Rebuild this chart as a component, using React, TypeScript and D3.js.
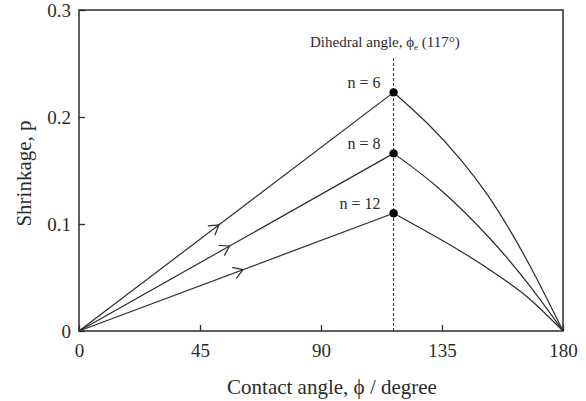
import React, { useEffect, useRef } from 'react';
import * as d3 from 'd3';

const W = 586;
const H = 401;

// axis ticks
const xTicks = [0, 45, 90, 135, 180];
const yTicks = [0, 0.1, 0.2, 0.3];
const yTickLabels = ['0', '0.1', '0.2', '0.3'];

// dihedral angle (degrees)
const dihedral = 117;

// series: n = 6, 8, 12
const seriesNames = ['n = 6', 'n = 8', 'n = 12'];
const peakValues = [0.223, 0.166, 0.11];
// where the arrow heads sit on the rising lines (degrees)
const arrowAngles = [52, 56, 61];

// falling parts, from the peak to 180 degrees
const fallN6: [number, number][] = [[117, 0.223], [130, 0.193], [142, 0.16], [152, 0.127], [161, 0.091], [170, 0.05], [180, 0]];
const fallN8: [number, number][] = [[117, 0.166], [134, 0.133], [153, 0.086], [168, 0.041], [180, 0]];
const fallN12: [number, number][] = [[117, 0.11], [141, 0.076], [157, 0.05], [168, 0.029], [180, 0]];
const fallSeries = [fallN6, fallN8, fallN12];

const FONT = '"Liberation Serif", "DejaVu Serif", serif';
const INK = '#2b2b2b';

const draw = (svgEl: SVGSVGElement) => {
  const svg = d3.select(svgEl);
  svg.selectAll('*').remove();

  const margin = { top: 10, right: 23, bottom: 70, left: 79 };
  const x = d3.scaleLinear().domain([0, 180]).range([margin.left, W - margin.right]);
  const y = d3.scaleLinear().domain([0, 0.3]).range([H - margin.bottom, margin.top]);

  const g = svg.append('g');

  // y axis, ticks pointing inward
  const yAxis = d3.axisLeft(y)
    .tickValues(yTicks)
    .tickFormat((d, i) => yTickLabels[i])
    .tickSizeInner(-6)
    .tickSizeOuter(0)
    .tickPadding(8);
  const yg = g.append('g').attr('transform', `translate(${x(0)},0)`).call(yAxis);
  yg.select('.domain').remove();
  yg.selectAll('line').attr('stroke', INK).attr('stroke-width', 1.3);
  yg.selectAll('text')
    .attr('font-family', FONT)
    .attr('font-size', 19)
    .attr('fill', INK)
    .attr('dy', '0.34em');

  // x axis
  const xAxis = d3.axisBottom(x)
    .tickValues(xTicks)
    .tickFormat(d3.format('d'))
    .tickSizeInner(-6)
    .tickSizeOuter(0)
    .tickPadding(13);
  const xg = g.append('g').attr('transform', `translate(0,${y(0)})`).call(xAxis);
  xg.select('.domain').remove();
  xg.selectAll('line').attr('stroke', INK).attr('stroke-width', 1.3);
  xg.selectAll('text')
    .attr('font-family', FONT)
    .attr('font-size', 19)
    .attr('fill', INK);

  // frame
  g.append('rect')
    .attr('x', x(0))
    .attr('y', y(0.3))
    .attr('width', x(180) - x(0))
    .attr('height', y(0) - y(0.3))
    .attr('fill', 'none')
    .attr('stroke', INK)
    .attr('stroke-width', 1.5);

  // dashed dihedral line
  g.append('line')
    .attr('x1', x(dihedral))
    .attr('x2', x(dihedral))
    .attr('y1', 58)
    .attr('y2', y(0))
    .attr('stroke', INK)
    .attr('stroke-width', 1)
    .attr('stroke-dasharray', '3,2');

  const straight = d3.line<[number, number]>().x(d => x(d[0])).y(d => y(d[1]));
  const curved = d3.line<[number, number]>().x(d => x(d[0])).y(d => y(d[1])).curve(d3.curveNatural);

  peakValues.forEach((peak, i) => {
    const rise: [number, number][] = [[0, 0], [dihedral, peak]];
    g.append('path')
      .attr('d', straight(rise))
      .attr('fill', 'none')
      .attr('stroke', INK)
      .attr('stroke-width', 1.2);
    g.append('path')
      .attr('d', curved(fallSeries[i]))
      .attr('fill', 'none')
      .attr('stroke', INK)
      .attr('stroke-width', 1.2);

    // open arrow head on the rising line
    const x0 = x(0), y0 = y(0), x1 = x(dihedral), y1 = y(peak);
    const len = Math.hypot(x1 - x0, y1 - y0);
    const ux = (x1 - x0) / len, uy = (y1 - y0) / len;
    const t = arrowAngles[i] / dihedral;
    const tx = x0 + (x1 - x0) * t, ty = y0 + (y1 - y0) * t;
    const L = 11, a = (32 * Math.PI) / 180;
    const arm = (s: number) => {
      const c = Math.cos(s * a), sn = Math.sin(s * a);
      const bx = -ux, by = -uy;
      return [tx + L * (bx * c - by * sn), ty + L * (bx * sn + by * c)];
    };
    const [ax, ay] = arm(1);
    const [bx, by] = arm(-1);
    g.append('path')
      .attr('d', `M${ax},${ay}L${tx},${ty}L${bx},${by}`)
      .attr('fill', 'none')
      .attr('stroke', INK)
      .attr('stroke-width', 1.2);

    // peak marker
    g.append('circle')
      .attr('cx', x(dihedral))
      .attr('cy', y(peak))
      .attr('r', 4.2)
      .attr('fill', '#000');

    g.append('text')
      .attr('x', x(dihedral) - 13)
      .attr('y', y(peak) - 4)
      .attr('text-anchor', 'end')
      .attr('font-family', FONT)
      .attr('font-size', 16)
      .attr('fill', INK)
      .text(seriesNames[i]);
  });

  // dihedral annotation
  const ann = g.append('text')
    .attr('x', 310)
    .attr('y', 47)
    .attr('font-family', FONT)
    .attr('font-size', 15)
    .attr('fill', INK);
  ann.append('tspan').text('Dihedral angle,  \u03d5');
  ann.append('tspan').attr('dy', 3).attr('font-size', 9).text('e');
  ann.append('tspan').attr('dy', -3).text(' (117\u00b0)');

  // axis titles
  g.append('text')
    .attr('x', 332)
    .attr('y', 394)
    .attr('text-anchor', 'middle')
    .attr('font-family', FONT)
    .attr('font-size', 21)
    .attr('fill', INK)
    .text('Contact angle, \u03d5 / degree');

  g.append('text')
    .attr('transform', `translate(31,${(y(0) + y(0.3)) / 2 + 3}) rotate(-90)`)
    .attr('text-anchor', 'middle')
    .attr('font-family', FONT)
    .attr('font-size', 21)
    .attr('fill', INK)
    .text('Shrinkage, p');
};

export default function App() {
  const ref = useRef<SVGSVGElement>(null);
  useEffect(() => {
    if (ref.current) draw(ref.current);
  }, []);
  return (
    <div style={{ position: 'absolute', left: 0, top: 0, width: W, height: H, background: '#fff' }}>
      <svg ref={ref} width={W} height={H} style={{ display: 'block' }} />
    </div>
  );
}
